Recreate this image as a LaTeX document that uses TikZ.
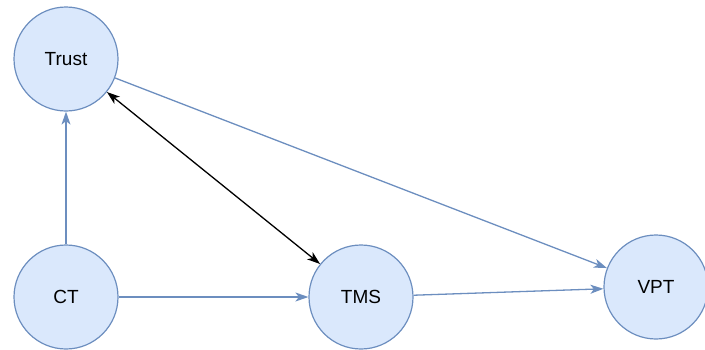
\documentclass[tikz,border=0pt]{standalone}
\usepackage{fontspec}
\setmainfont{Liberation Sans}
\usetikzlibrary{arrows.meta}
\definecolor{nodefill}{HTML}{DAE8FC}
\definecolor{nodedraw}{HTML}{6C8EBF}
\tikzset{
  circ/.style={circle, draw=nodedraw, fill=nodefill, line width=1.2pt, minimum size=104pt, inner sep=0pt, font=\fontsize{19}{21}\selectfont},
  bluearrow/.style={draw=nodedraw, line width=1.3pt, -{Stealth[length=13pt,width=9pt,inset=3.5pt]}},
  blackarrow/.style={draw=black, line width=1.3pt, {Stealth[length=13pt,width=9pt,inset=3.5pt]}-{Stealth[length=13pt,width=9pt,inset=3.5pt]}}
}
\begin{document}
\begin{tikzpicture}[x=1pt,y=-1pt]
\useasboundingbox (0,0) rectangle (705,349);
\node[circ] (trust) at (66,59) {Trust};
\node[circ] (ct) at (66,297) {CT};
\node[circ] (tms) at (361,297) {TMS};
\node[circ] (vpt) at (656,287) {VPT};
\draw[bluearrow] (ct) -- (trust);
\draw[bluearrow] (ct) -- (tms);
\draw[bluearrow] (tms) -- (vpt);
\draw[bluearrow] (trust) -- (vpt);
\draw[blackarrow] (trust) -- (tms);
\end{tikzpicture}
\end{document}
